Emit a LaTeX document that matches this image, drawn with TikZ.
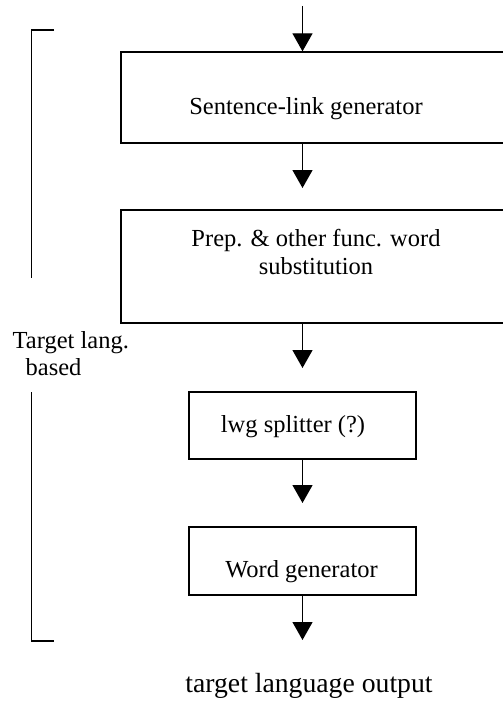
\documentclass[tikz,border=0pt]{standalone}
\usepackage{fontspec}
\setmainfont{Liberation Serif}
\usetikzlibrary{arrows.meta}
\begin{document}
\begin{tikzpicture}[x=1bp,y=-1bp,
  line width=1.3bp,
  boxshape/.style={draw,rectangle,inner sep=0pt},
  txt/.style={inner sep=0pt,anchor=base,font=\fontsize{24.5bp}{28bp}\selectfont},
  bigtxt/.style={txt,font=\fontsize{27.7bp}{32bp}\selectfont},
  arr/.style={-{Triangle[length=18bp,width=20bp]}}]
\useasboundingbox (0,0) rectangle (503,702);
\clip (0,0) rectangle (503,702);
% boxes
\node[boxshape,minimum width=383.5bp,minimum height=91bp] (b1) at (312.75,97.5) {};
\node[boxshape,minimum width=383.5bp,minimum height=113bp] (b2) at (312.75,266.5) {};
\node[boxshape,minimum width=227bp,minimum height=67bp] (b3) at (302.5,425.5) {};
\node[boxshape,minimum width=227bp,minimum height=68bp] (b4) at (302.5,561) {};
% texts
\node[txt] (t1) at (306,115) {Sentence-link generator};
\node[txt] (t2a) at (316,246) {Prep. \& other func. word};
\node[txt] (t2b) at (316,274) {substitution};
\node[txt] (t3) at (293,432) {lwg splitter (?)};
\node[txt] (t4) at (301.5,577) {Word generator};
\node[bigtxt] (out) at (309,692.5) {target language output};
\node[txt,anchor=base west] (tl1) at (12,348) {Target lang.};
\node[txt,anchor=base west] (tl2) at (25,375) {based};
% arrows
\coordinate (top) at (302.5,6);
\coordinate (tip2) at (302.5,188);
\coordinate (tip3) at (302.5,368);
\coordinate (tip4) at (302.5,503);
\coordinate (tip5) at (302.5,640);
\draw[arr] (top) -- (top |- b1.north);
\draw[arr] (b1.south -| top) -- (tip2);
\draw[arr] (b2.south -| top) -- (tip3);
\draw[arr] (b3.south) -- (tip4);
\draw[arr] (b4.south) -- (tip5);
% bracket
\coordinate (bt) at (54,30);
\coordinate (bb) at (54,641);
\draw (bt) -- (31.5,30) -- (31.5,278);
\draw (31.5,392) -- (31.5,641) -- (bb);
\end{tikzpicture}
\end{document}
